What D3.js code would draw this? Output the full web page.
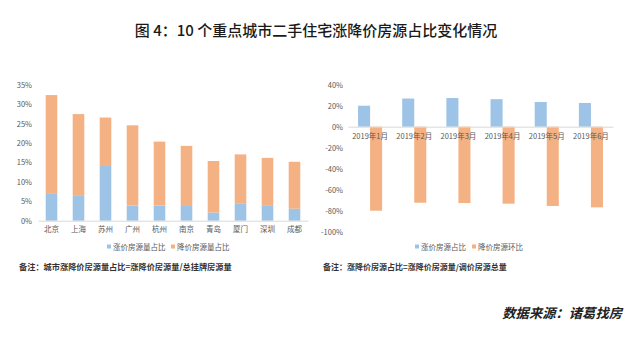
<!DOCTYPE html>
<html><head><meta charset="utf-8">
<script src="https://cdn.jsdelivr.net/npm/d3@7"></script>
<style>
html,body{margin:0;padding:0;background:#fff;}
svg{display:block;}
</style></head>
<body><svg id="c" width="640" height="352"></svg>
<script>
const cities = ["北京","上海","苏州","广州","杭州","南京","青岛","厦门","深圳","成都"];
const riseShare = [7.1, 6.4, 14.1, 3.9, 3.9, 3.8, 2.1, 4.5, 4.0, 3.1];
const fallShare = [25.3, 21.1, 12.5, 20.7, 16.5, 15.5, 13.3, 12.6, 12.2, 12.1];
const leftTicks = [0, 5, 10, 15, 20, 25, 30, 35];

const months = ["2019年1月","2019年2月","2019年3月","2019年4月","2019年5月","2019年6月"];
const riseRatio = [20.0, 26.8, 27.3, 26.2, 23.5, 22.6];
const fallMoM = [-80.0, -72.4, -72.7, -73.3, -75.5, -76.8];
const rightTicks = [40, 20, 0, -20, -40, -60, -80, -100];

const BLUE = "#9DC3E6", ORANGE = "#F4B183", GRID = "#D9D9D9", TXT = "#595959";
const FONT = "'Noto Sans CJK SC','Noto Sans',sans-serif";
const svg = d3.select("#c");

// Title
svg.append("text").attr("x", 316).attr("y", 36).attr("text-anchor", "middle")
  .attr("font-family", FONT).attr("font-size", 15).attr("font-weight", "500").attr("fill", "#1a1a1a")
  .text("图 4：10 个重点城市二手住宅涨降价房源占比变化情况");

// ---------- Left chart ----------
const lx = d3.scaleBand().domain(cities).range([38, 308]).paddingInner(0.57).paddingOuter(0.285);
const ly = d3.scaleLinear().domain([0, 35]).range([220.7, 85]);
const lg = svg.append("g");
lg.append("g").attr("transform", "translate(38,0)")
  .call(d3.axisLeft(ly).tickValues(leftTicks).tickFormat(d => d + "%").tickSize(0).tickPadding(6))
  .call(g => g.select(".domain").remove())
  .call(g => g.selectAll("text").attr("font-family", FONT).attr("font-size", 7.5).attr("fill", TXT));
const stackData = cities.map((c, i) => ({c, rise: riseShare[i], fall: fallShare[i]}));
const stacked = d3.stack().keys(["rise", "fall"])(stackData);
const colors = {rise: BLUE, fall: ORANGE};
stacked.forEach(layer => {
  lg.append("g").attr("fill", colors[layer.key]).selectAll("rect").data(layer).join("rect")
    .attr("x", d => lx(d.data.c)).attr("width", lx.bandwidth())
    .attr("y", d => ly(d[1])).attr("height", d => ly(d[0]) - ly(d[1]));
});
lg.append("g").attr("transform", "translate(0,220.7)")
  .call(d3.axisBottom(lx).tickSize(0).tickPadding(6))
  .call(g => g.select(".domain").attr("stroke", GRID))
  .call(g => g.selectAll("text").attr("font-family", FONT).attr("font-size", 7.5).attr("fill", TXT));

// left legend
const leftLeg = [{t:"涨价房源量占比", c:BLUE, x:107}, {t:"降价房源量占比", c:ORANGE, x:171}];
leftLeg.forEach(d => {
  svg.append("rect").attr("x", d.x).attr("y", 244.5).attr("width", 4).attr("height", 4).attr("fill", d.c);
  svg.append("text").attr("x", d.x + 6).attr("y", 249.5).attr("font-family", FONT).attr("font-size", 7.5)
    .attr("fill", TXT).text(d.t);
});
svg.append("text").attr("x", 19).attr("y", 270).attr("font-family", FONT).attr("font-size", 8.2)
  .attr("font-weight", "bold").attr("fill", "#333").text("备注：城市涨降价房源量占比=涨降价房源量/总挂牌房源量");

// ---------- Right chart ----------
const rx = d3.scaleBand().domain(months).range([348, 613]).paddingInner(0.455).paddingOuter(0.2275);
const rsub = d3.scaleBand().domain(["rise", "fall"]).range([0, rx.bandwidth()]);
const ry = d3.scaleLinear().domain([-100, 40]).range([231.7, 84.7]);
const rg = svg.append("g");
rg.append("g").attr("transform", "translate(348,0)")
  .call(d3.axisLeft(ry).tickValues(rightTicks).tickFormat(d => d + "%").tickSize(0).tickPadding(5))
  .call(g => g.select(".domain").remove())
  .call(g => g.selectAll("text").attr("font-family", FONT).attr("font-size", 7.5).attr("fill", TXT));
const groupData = months.map((m, i) => ({m, rise: riseRatio[i], fall: fallMoM[i]}));
["rise", "fall"].forEach(k => {
  rg.append("g").attr("fill", colors[k]).selectAll("rect").data(groupData).join("rect")
    .attr("x", d => rx(d.m) + rsub(k)).attr("width", rsub.bandwidth())
    .attr("y", d => ry(Math.max(0, d[k]))).attr("height", d => Math.abs(ry(d[k]) - ry(0)));
});
rg.append("g").attr("transform", `translate(0,${ry(0)})`)
  .call(d3.axisBottom(rx).tickSize(0).tickPadding(7))
  .call(g => g.select(".domain").attr("stroke", GRID))
  .call(g => g.selectAll("text").attr("font-family", FONT).attr("font-size", 7.5).attr("fill", TXT));

const rightLeg = [{t:"涨价房源占比", c:BLUE, x:415}, {t:"降价房源环比", c:ORANGE, x:472}];
rightLeg.forEach(d => {
  svg.append("rect").attr("x", d.x).attr("y", 244.5).attr("width", 4).attr("height", 4).attr("fill", d.c);
  svg.append("text").attr("x", d.x + 6).attr("y", 249.5).attr("font-family", FONT).attr("font-size", 7.5)
    .attr("fill", TXT).text(d.t);
});
svg.append("text").attr("x", 323).attr("y", 270).attr("font-family", FONT).attr("font-size", 8)
  .attr("font-weight", "bold").attr("fill", "#333").text("备注：涨降价房源占比=涨降价房源量/调价房源总量");

// Source
svg.append("text").attr("x", 622).attr("y", 318).attr("text-anchor", "end").attr("font-family", FONT)
  .attr("font-size", 13.3).attr("font-style", "italic").attr("font-weight", "bold").attr("fill", "#222")
  .text("数据来源：诸葛找房");
</script></body></html>
